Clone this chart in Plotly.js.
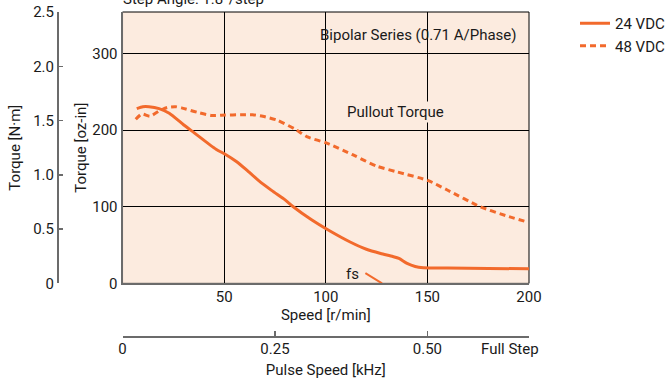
<!DOCTYPE html>
<html>
<head>
<meta charset="utf-8">
<script src="https://cdn.plot.ly/plotly-3.0.1.min.js"></script>
<style>html,body{margin:0;padding:0;background:#fff;}#chart{width:669px;height:386px;}</style>
</head>
<body>
<div id="chart"></div>
<script>
// Speed [r/min] and torque [oz-in]
const speed24 = [7, 10, 13, 18, 23, 30, 35, 46, 50.5, 56, 61, 67, 73.5, 80, 84, 93, 101, 112, 120, 127, 133, 136, 140, 144, 148, 160, 180, 200];
const torque24 = [228, 230.5, 230.5, 228, 222, 207, 197, 175, 168.5, 159, 148, 134, 121, 109, 100, 83, 70, 54, 44.5, 39, 35, 32.5, 26, 22, 20.5, 20, 19.5, 19];
const speed48 = [6.5, 9.5, 13.5, 18, 22, 26, 29, 37, 44, 50.5, 58, 64, 69, 76, 85, 91, 100.5, 113.5, 125, 135, 150.5, 160, 176, 189, 198];
const torque48 = [214, 221, 218, 225, 229.5, 230.5, 229, 223, 219, 219.5, 220, 220, 218, 213, 201, 191, 183, 167.5, 153, 145.5, 134, 121.5, 100, 88, 81];
const speedFs = [119.5, 123.5, 127.7];
const torqueFs = [13.5, 7, 0];
const seriesNames = ["24 VDC", "48 VDC"];
const speedTicks = [50, 100, 150, 200];
const ozTicks = [0, 100, 200, 300];
const nmTicks = [0, 0.5, 1.0, 1.5, 2.0, 2.5];
const nmTickText = ["0", "0.5", "1.0", "1.5", "2.0", "2.5"];
const khzTicks = [0, 0.25, 0.5];
const khzTickText = ["0", "0.25", "0.50"];

const OZ_PER_NM = 141.612;
const NM_MAX = 2.5;
const SPEED_MAX = 200;
const KHZ_MAX = SPEED_MAX / 150 * 0.5;

const FONT = "Roboto, Liberation Sans, sans-serif";
const FS = 15;
const ORANGE = "#f26a2c";
const BG = "#fcebdf";
const AXIS_GRAY = "#6b6b6b";

const traces = [
  {x: speed24, y: torque24, name: seriesNames[0], type: "scatter", mode: "lines",
   line: {color: ORANGE, width: 3, shape: "spline", smoothing: 0.6}, hoverinfo: "skip"},
  {x: speed48, y: torque48, name: seriesNames[1], type: "scatter", mode: "lines",
   line: {color: ORANGE, width: 3, dash: "6px,4px", shape: "spline", smoothing: 0.6}, hoverinfo: "skip"},
  {x: speedFs, y: torqueFs, name: "fs", type: "scatter", mode: "lines", showlegend: false,
   line: {color: ORANGE, width: 2}, hoverinfo: "skip"},
  {x: [], y: [], xaxis: "x2", yaxis: "y2", type: "scatter", showlegend: false, hoverinfo: "skip"}
];

const layout = {
  width: 669, height: 386,
  margin: {l: 58, r: 140, t: 12, b: 49},
  paper_bgcolor: "#ffffff",
  plot_bgcolor: BG,
  font: {family: FONT, size: FS, color: "#1a1a1a"},
  showlegend: true,
  legend: {xref: "container", yref: "container", x: 575/669, y: 1 - 7/386, xanchor: "left", yanchor: "top",
           bgcolor: "rgba(0,0,0,0)", font: {family: FONT, size: FS}, tracegroupgap: 0},
  xaxis: {domain: [0.137, 1], range: [0, SPEED_MAX], anchor: "y",
          tickmode: "array", tickvals: speedTicks, ticks: "", showgrid: true, gridcolor: "#000", gridwidth: 1,
          showline: true, linecolor: AXIS_GRAY, linewidth: 2, zeroline: false, ticklabelstandoff: -1,
          title: {text: "Speed [r/min]", standoff: 2, font: {size: FS}}},
  yaxis: {domain: [0.165, 1], range: [0, NM_MAX * OZ_PER_NM], anchor: "x",
          tickmode: "array", tickvals: ozTicks, ticks: "", showgrid: true, gridcolor: "#000", gridwidth: 1,
          showline: true, linecolor: AXIS_GRAY, linewidth: 2, zeroline: false,
          title: {text: "Torque [oz-in]", standoff: 2, font: {size: FS}}},
  yaxis2: {overlaying: "y", anchor: "free", position: 0, side: "left", range: [0, NM_MAX],
           tickmode: "array", tickvals: nmTicks, ticktext: nmTickText, ticks: "inside", ticklen: 4,
           tickcolor: AXIS_GRAY, tickwidth: 1.5, showgrid: false, showline: true, linecolor: AXIS_GRAY, linewidth: 2,
           zeroline: false, title: {text: "Torque [N·m]", standoff: 8, font: {size: FS}}},
  xaxis2: {overlaying: "x", anchor: "free", position: 0, side: "bottom", range: [0, KHZ_MAX],
           tickmode: "array", tickvals: khzTicks, ticktext: khzTickText, ticks: "inside", ticklen: 5,
           tickcolor: AXIS_GRAY, tickwidth: 1.5, showgrid: false, showline: true, linecolor: AXIS_GRAY, linewidth: 2,
           zeroline: false, ticklabelstandoff: -2, title: {text: "Pulse Speed [kHz]", standoff: 6, font: {size: FS}}},
  shapes: [
    {type: "rect", xref: "x domain", yref: "y domain", x0: 0, x1: 1, y0: 0, y1: 1,
     line: {color: "#000", width: 1}, layer: "below"}
  ],
  annotations: [
    {text: "Step Angle: 1.8°/step", xref: "paper", yref: "paper", x: 0.134, y: 1.0, xanchor: "left", yanchor: "bottom",
     yshift: 2, showarrow: false, font: {size: FS}},
    {text: "Bipolar Series (0.71 A/Phase)", xref: "x", yref: "y", x: 194.5, y: 324, xanchor: "right", yanchor: "middle",
     showarrow: false, font: {size: FS}},
    {text: "Pullout Torque", xref: "x", yref: "y", x: 134.5, y: 224, xanchor: "center", yanchor: "middle",
     showarrow: false, bgcolor: BG, font: {size: FS}},
    {text: "fs", xref: "x", yref: "y", x: 117.5, y: 12, xanchor: "right", yanchor: "middle",
     showarrow: false, font: {size: FS}},
    {text: "Full Step", xref: "x2", yref: "paper", x: KHZ_MAX, y: 0, xanchor: "center", yanchor: "top",
     yshift: -1, xshift: -19, showarrow: false, font: {size: FS}}
  ]
};

Plotly.newPlot("chart", traces, layout, {staticPlot: true, displayModeBar: false});
</script>
</body>
</html>
